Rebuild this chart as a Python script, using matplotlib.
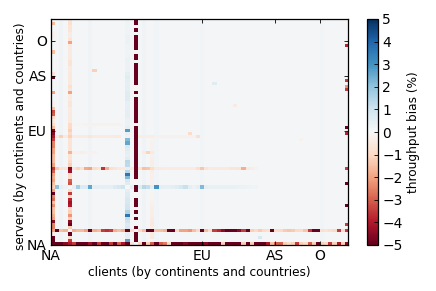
import matplotlib
matplotlib.use('Agg')
import matplotlib.pyplot as plt
import numpy as np

n_rows = 72
n_cols = 72
background = 0.05

x_ticks = [0, 36.6, 54.3, 65.2]
x_labels = ['NA', 'EU', 'AS', 'O']
y_ticks = [0, 36.4, 54, 65]
y_labels = ['NA', 'EU', 'AS', 'O']

# faint client columns
faint_cols = {2: 0.18, 6: 0.1, 9: 0.18, 16: 0.1, 22: 0.18, 25: 0.12, 36: 0.12, 49: 0.1, 58: 0.1, 65: 0.14}

# first client column, bottom row upward
col0_low = [-5, -5, -5, -0.5, -1.5, -2.5, -2.5, -4.5, -2, -1.8, -1.5, -1.5, -2.3, -1.5, -2.8, -2.5, -5, -2, -1.2,
            -1.5, -2, -1.8, -2, -3, -3.5, -2, -1.6, -1.6, -1.6, -2, -2, -2.5, -2.5, -3.5, -4, -4.5, -4.5, -1.5]
col0_high = {38: -0.8, 39: -0.5, 40: -1, 41: -3, 42: -3.2, 43: -1.4, 44: -0.2, 45: -0.2, 48: -2, 53: -5, 54: -0.7,
             61: -1.5, 66: -0.2, 67: -0.2, 70: -1.6}

# pale orange column
col4 = {0: -5, 1: -3.5, 2: -0.9, 3: -5, 4: -0.3, 5: -1.2, 6: -5, 7: -4.5, 8: -1.2, 9: -2.2, 10: -1.2, 11: -1, 12: -4,
        13: -4.2, 14: -3.8, 15: -1, 16: -3.5, 17: -0.9, 18: 0.0, 19: -3.2, 20: -3, 21: -1, 22: -1, 23: -4.2, 24: -4.5,
        25: -1.2, 26: -0.9, 27: -0.7, 28: -0.7, 29: -1.7, 30: -0.7, 31: -0.7, 32: -0.7, 33: -0.7, 34: -1.2, 35: -1,
        36: -1.2, 37: -1, 38: -1, 39: -0.5, 40: -0.5, 41: -0.5, 42: -0.4, 43: -0.4, 44: -0.6, 45: -0.6, 46: -0.4,
        47: -0.4, 48: -2, 49: -0.6, 50: -0.8, 51: -0.5, 52: -0.5, 53: -0.5, 54: -0.5, 55: -0.4, 56: -0.4, 57: -0.7,
        58: -0.7, 59: -0.5, 60: -0.4, 61: -0.4, 62: -0.4, 63: -0.5, 64: -2, 65: -0.7, 66: -0.4, 67: -0.4, 68: -0.6,
        69: -0.6, 70: -0.8, 71: -0.7}

# blue column
col18 = {0: 0.2, 1: 2.7, 2: 0.5, 3: 0.5, 4: -5, 5: 0.8, 6: 0.7, 7: 1.0, 8: 1.2, 9: 3.6, 10: 1.5, 11: 1.0, 12: 0.9,
         13: 0.8, 14: 0.8, 15: 0.7, 16: 0.6, 17: 0.5, 18: 0.0, 19: 0.6, 20: 0.8, 21: 2.2, 22: 3.6, 23: 1.4, 24: 0.4,
         25: 1.3, 26: 1.4, 27: 0.6, 28: 0.4, 29: 0.5, 30: 0.6, 31: 0.8, 32: 2.6, 33: 2.2, 34: 0.3, 35: 0.4, 36: 2.8,
         37: 0.4, 38: 0.3, 39: 0.3, 40: 0.4, 41: 0.5, 42: 0.5, 43: 0.4, 44: 0.4, 45: 0.4, 46: 0.6, 47: 0.6, 48: 0.6,
         49: 0.5, 50: 0.5, 51: 0.4, 52: 0.5, 53: 0.6, 54: 0.5, 55: 0.3, 56: 0.3, 57: 0.3, 58: 0.3, 59: 0.3, 60: 0.2,
         61: 0.2, 62: 0.2, 63: 0.2, 64: 0.3, 65: 0.3, 66: 0.3, 67: 0.2, 68: 0.2, 69: 0.2, 70: 0.2, 71: 0.2}

# dark client column: servers without data in it
col20_gap = [0, 4, 6, 7, 9, 11, 15, 16, 19, 20, 38, 47, 49, 50, 58, 61, 67, 69]

# pale client column in the lower part
col24 = {2: -0.5, 3: -0.5, 5: -0.35, 6: -0.45, 7: -0.4, 8: -0.4, 9: -0.35, 10: -0.35, 11: -0.3, 12: -0.25, 13: -0.2,
         14: -0.15, 15: -0.15, 16: -0.15, 19: -0.2, 20: -0.2, 21: -0.25, 22: -0.25, 23: -0.3, 25: -0.3, 26: -0.3,
         27: -0.25, 28: -0.2, 29: -0.2, 30: -0.2, 31: -0.2, 32: -0.2, 33: -0.15}

# last client column
col71 = {0: -4.5, 4: -3.5, 6: -3.5, 12: -5, 19: -5, 24: -3.5, 35: -3.8, 37: -5, 49: -3.5, 50: -2.2, 52: -3.5, 63: -3.8}

# bottom server row
row0 = [-5, -5, -5, -4.5, -4, -3.5, -5, -5, -5, -4.2, -5, -3.5, -5, -5, -3.5, -5, -3, -4, -5, -0.6, 0.0, -1,
        -5, -1.2, -3, -5, -3, -2.6, -1, -5, -5, -5, -4.6, -5, -5, -5, -5, -4.5, -5, -5, -5, -1.2, -5, -5, -5, -5,
        -1.2, -5, -1.2, -5, -5, -5, -4, -1.5, -3, -3, -1.2, -1, -1.2, -3.5, -1.2, -1, -3, -1.2, -5, -1.2, -1, -3.5,
        -1.2, -4, -1.2, -4]

# dark server row
row4 = [-2, -5, -1.5, -1.7, 0.0, -1.8, -1.6, -1.6, -2, -5, -1.8, -1.6, -3.5, -3.7, -3.5, -1.8, -1.5, -1.8, -5, -0.8,
        0.0, -1, -1.5, -5, -5, -1.5, -1.5, -1.7, -5, -5, -1, -2, -2, -2.2, -1.5, -1, -5, -1.5, -0.8, -3.5, -3.8, -4.5,
        -5, -5, -5, -4.5, -3.5, -5, -1.2, -1, -1.3, -1, -0.8, -5, -1, -1, -1.3, -1.4, -1.3, -1, -1, -1.4, -3.5, -5, -5,
        -0.8, -0.7, -0.8, -1, -3.5, -1, -2.8]

# orange server row
row24 = {1: -1.3, 2: -0.7, 3: -0.6, 5: -0.7, 6: -1.1, 7: -0.7, 8: -1.9, 9: -2, 10: -0.9, 11: -0.7, 12: -3.6, 13: -1.8,
         14: -0.8, 15: -0.7, 16: -0.5, 17: -0.5, 19: -0.5, 21: -0.7, 22: -1.5, 23: -1.4, 24: -0.9, 25: -0.5, 26: -0.5,
         27: -0.4, 28: -0.4, 29: -0.4, 30: -0.4, 31: -0.4, 32: -0.4, 33: -0.4, 34: -0.4, 35: -0.8, 36: -1.4, 37: -0.7,
         38: -0.4, 39: -0.5, 40: -0.5, 41: -0.5, 42: -0.5, 43: -0.6, 44: -0.6, 45: -0.7, 46: -1.8, 47: -0.5, 48: -0.3,
         49: -0.2}

# blue server row
row18 = {1: 2, 2: 0.5, 3: 0.3, 5: 0.4, 6: 1.7, 7: 0.7, 8: 0.7, 9: 2.6, 10: 0.5, 11: 0.4, 12: 0.4, 13: 0.4, 14: 0.4,
         15: 0.7, 16: 0.8, 17: 1.0, 19: 0.4, 21: 0.6, 22: 1.4, 23: 1.2, 24: 0.5, 25: 3, 26: 0.5, 27: 0.4, 28: 0.4,
         29: 0.5, 30: 0.6, 31: 0.8, 32: 1.1, 33: 0.5, 34: 0.3, 35: 0.5, 36: 2.2, 37: 0.5, 38: 0.35, 39: 0.35, 40: 0.35,
         41: 0.35, 42: 0.35, 43: 0.35, 44: 0.35, 45: 0.3, 46: 0.3, 47: 0.25, 48: 0.2, 49: 0.2}

# pale orange server rows higher up
row34 = {1: -0.5, 2: -1.2, 3: -0.5, 5: -0.4, 6: -0.4, 7: -0.4, 8: -0.4, 9: -0.6, 10: -0.4, 11: -0.4, 12: -0.4, 13: -0.4,
         14: -0.4, 15: -0.5, 16: -0.4, 21: -0.3, 22: -0.3, 23: -0.3, 24: -0.3, 25: -0.2, 26: -0.2, 27: -0.2, 28: -0.2,
         29: -0.2, 30: -0.2, 31: -0.2, 32: -0.2, 33: -0.2, 34: -0.2, 35: -0.8}
row38 = {5: -0.15, 6: -0.15, 7: -0.15, 8: -0.2, 9: -0.2, 10: -0.2, 11: -0.2, 12: -0.2, 13: -0.2, 14: -0.2,
         15: -0.2, 16: -0.2}
row29 = {5: -0.2, 6: -0.2, 7: -0.3, 8: -0.2, 9: -0.2, 10: -0.2, 22: -0.4, 23: -1.1, 24: -0.5}

# (row, col, value)
single_cells = [(55, 10, -1.2), (44, 44, -0.4), (51, 39, 0.6), (35, 33, -0.9), (2, 50, 0.8), (33, 60, -0.2)]

matrix = np.full((n_rows, n_cols), background)
for col, val in faint_cols.items():
    matrix[:, col] = val
matrix[:len(col0_low), 0] = col0_low
for vals, col in [(col0_high, 0), (col4, 4), (col18, 18), (col24, 24)]:
    for row, val in vals.items():
        matrix[row, col] = val
for vals, row in [(row24, 24), (row18, 18), (row34, 34), (row38, 38), (row29, 29)]:
    for col, val in vals.items():
        matrix[row, col] = val
matrix[0] = row0
matrix[4] = row4
matrix[:, 20] = -5
matrix[col20_gap, 20] = 0.0
for row, val in col71.items():
    matrix[row, 71] = val
for row, col, val in single_cells:
    matrix[row, col] = val

fig = plt.figure(figsize=(4.36, 2.91), dpi=100)
ax = fig.add_axes([51/436, 46/291, 297/436, 226/291])
im = ax.imshow(matrix, cmap='RdBu', vmin=-5, vmax=5, origin='lower', aspect='auto',
               interpolation='nearest', extent=(0, n_cols, 0, n_rows))
ax.set_xticks(x_ticks)
ax.set_xticklabels(x_labels)
ax.set_yticks(y_ticks)
ax.set_yticklabels(y_labels)
ax.tick_params(direction='in', top=True, right=True, length=3, width=0.6, labelsize=10, pad=3)
ax.set_xlabel('clients (by continents and countries)', fontsize=8.7, labelpad=2)
ax.set_ylabel('servers (by continents and countries)', fontsize=8.7, labelpad=0, y=0.48)
for s in ax.spines.values():
    s.set_linewidth(0.9)

cax = fig.add_axes([367/436, 46/291, 11/436, 226/291])
cb = fig.colorbar(im, cax=cax)
cb.set_ticks(list(range(-5, 6)))
cb.ax.tick_params(direction='in', length=3, width=0.6, labelsize=10, pad=3)
cb.set_label('throughput bias (%)', fontsize=8.7, labelpad=3)
cb.outline.set_linewidth(0.9)

fig.savefig('out.png', dpi=100)
